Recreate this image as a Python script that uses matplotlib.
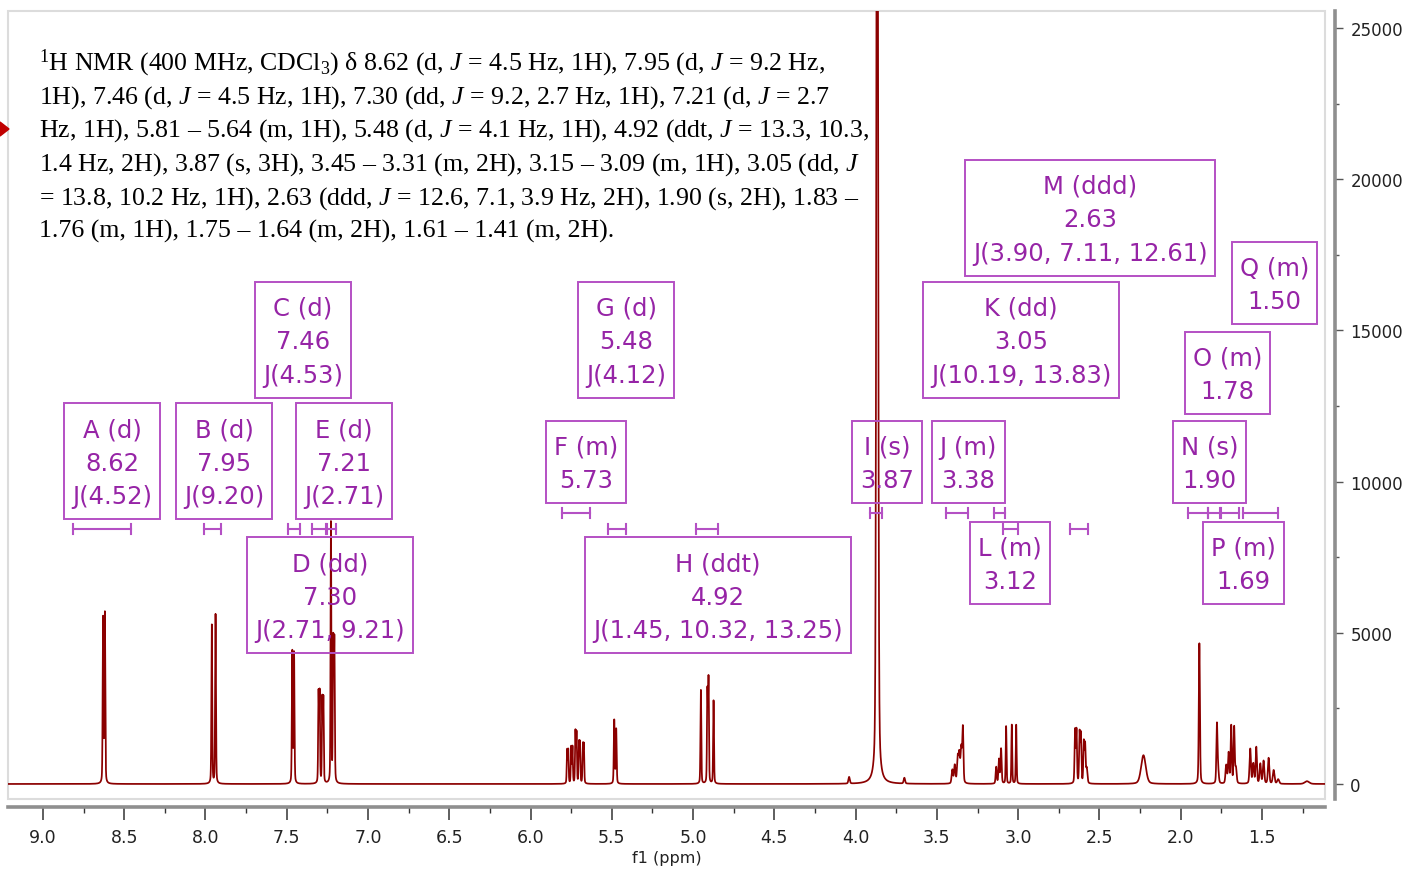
import numpy as np
import matplotlib
matplotlib.use("Agg")
import matplotlib.pyplot as plt
from matplotlib.patches import Rectangle, Polygon
from matplotlib.ticker import MultipleLocator

# ---------------- data ----------------
# peak positions (ppm), heights (intensity) and half widths (ppm)
peak_ppm = [
    8.630, 8.619,                      # A
    7.961, 7.938,                      # B
    7.466, 7.455,                      # C
    7.3044, 7.2976, 7.2814, 7.2746,    # D
    7.228, 7.214, 7.207,               # E
    5.775, 5.768, 5.750, 5.742, 5.724, 5.717, 5.702, 5.696, 5.678, 5.672,  # F
    5.485, 5.473,                      # G
    4.952, 4.912, 4.905, 4.874,        # H
    4.040, 3.700,                      # small
    3.867,                             # I
    3.405, 3.390, 3.372, 3.362, 3.350, 3.340,   # J
    3.135, 3.118, 3.105,               # L
    3.074, 3.039, 3.012,               # K
    2.650, 2.641, 2.622, 2.614, 2.596, 2.588, 2.578,  # M
    2.229,                             # broad
    1.885,                             # N
    1.777, 1.770,                      # O
    1.720, 1.705, 1.689, 1.671, 1.660, # P
    1.572, 1.553, 1.535, 1.510, 1.490, 1.459, 1.428, 1.400,  # Q
    1.223,
]
peak_height = [
    5450, 5600,
    5250, 5600,
    4350, 4300,
    2950, 2950, 2750, 2750,
    8600, 4600, 4600,
    1100, 1100, 1200, 1200, 1700, 1650, 1300, 1300, 1250, 1250,
    2100, 1800,
    3100, 3000, 3400, 2750,
    220, 190,
    40000,
    450, 600, 850, 950, 1150, 1800,
    550, 800, 1150,
    1900, 1950, 1950,
    1750, 1750, 1650, 1600, 1350, 1250, 500,
    950,
    4650,
    1900, 450,
    600, 1000, 1900, 1850, 500,
    1150, 650, 1200, 650, 750, 850, 450, 150,
    90,
]
peak_width = [
    0.0030, 0.0030,
    0.0030, 0.0030,
    0.0030, 0.0030,
    0.0028, 0.0028, 0.0028, 0.0028,
    0.0028, 0.0030, 0.0030,
    0.0028, 0.0028, 0.0028, 0.0028, 0.0028, 0.0028, 0.0028, 0.0028, 0.0028, 0.0028,
    0.0032, 0.0032,
    0.0030, 0.0030, 0.0030, 0.0030,
    0.0050, 0.0050,
    0.0060,
    0.0050, 0.0050, 0.0050, 0.0050, 0.0050, 0.0040,
    0.0040, 0.0040, 0.0040,
    0.0030, 0.0030, 0.0030,
    0.0035, 0.0035, 0.0035, 0.0035, 0.0035, 0.0035, 0.0050,
    0.0170,
    0.0040,
    0.0040, 0.0050,
    0.0050, 0.0045, 0.0040, 0.0040, 0.0050,
    0.0050, 0.0050, 0.0045, 0.0050, 0.0050, 0.0050, 0.0060, 0.0070,
    0.0160,
]
lorentz_fraction = 0.3

# multiplet labels
mult_labels = [
    "A (d)\n8.62\nJ(4.52)", "B (d)\n7.95\nJ(9.20)", "C (d)\n7.46\nJ(4.53)",
    "D (dd)\n7.30\nJ(2.71, 9.21)", "E (d)\n7.21\nJ(2.71)", "F (m)\n5.73",
    "G (d)\n5.48\nJ(4.12)", "H (ddt)\n4.92\nJ(1.45, 10.32, 13.25)",
    "I (s)\n3.87", "J (m)\n3.38", "L (m)\n3.12", "K (dd)\n3.05\nJ(10.19, 13.83)",
    "M (ddd)\n2.63\nJ(3.90, 7.11, 12.61)", "N (s)\n1.90", "O (m)\n1.78",
    "P (m)\n1.69", "Q (m)\n1.50",
]
# multiplet ranges (ppm)
range_start = [8.815, 8.009, 7.492, 7.344, 7.258, 5.806, 5.523, 4.981, 3.910,
               3.443, 3.147, 3.092, 2.680, 1.954, 1.830, 1.750, 1.615]
range_end = [8.458, 7.904, 7.418, 7.252, 7.197, 5.634, 5.412, 4.846, 3.837,
             3.308, 3.080, 3.000, 2.569, 1.830, 1.760, 1.640, 1.400]

x_ticks = [9.0, 8.5, 8.0, 7.5, 7.0, 6.5, 6.0, 5.5, 5.0, 4.5, 4.0, 3.5, 3.0, 2.5, 2.0, 1.5]
y_ticks = [0, 5000, 10000, 15000, 20000, 25000]

report_lines = [
    r"$^{1}$H NMR (400 MHz, CDCl$_{3}$) δ 8.62 (d, $J$ = 4.5 Hz, 1H), 7.95 (d, $J$ = 9.2 Hz,",
    r"1H), 7.46 (d, $J$ = 4.5 Hz, 1H), 7.30 (dd, $J$ = 9.2, 2.7 Hz, 1H), 7.21 (d, $J$ = 2.7",
    r"Hz, 1H), 5.81 – 5.64 (m, 1H), 5.48 (d, $J$ = 4.1 Hz, 1H), 4.92 (ddt, $J$ = 13.3, 10.3,",
    r"1.4 Hz, 2H), 3.87 (s, 3H), 3.45 – 3.31 (m, 2H), 3.15 – 3.09 (m, 1H), 3.05 (dd, $J$",
    r"= 13.8, 10.2 Hz, 1H), 2.63 (ddd, $J$ = 12.6, 7.1, 3.9 Hz, 2H), 1.90 (s, 2H), 1.83 –",
    r"1.76 (m, 1H), 1.75 – 1.64 (m, 2H), 1.61 – 1.41 (m, 2H).",
]

# ---------------- layout ----------------
W, H = 1406, 870
box_pos = [  # (ppm, intensity) centre of each label text
    (8.575, 10628), (7.886, 10628), (7.400, 14634), (7.233, 6191), (7.147, 10628),
    (5.658, 10595), (5.412, 14634), (4.846, 6191), (3.806, 10595), (3.307, 10595),
    (3.049, 7250), (2.981, 14634), (2.557, 18673), (1.824, 10595), (1.713, 13541),
    (1.615, 7250), (1.424, 16521),
]
bracket_level = [8443, 8443, 8443, 8443, 8443, 8973, 8443, 8443, 8973,
                 8973, 8973, 8443, 8443, 8973, 8973, 8973, 8973]

plt.rcParams["mathtext.fontset"] = "custom"
plt.rcParams["mathtext.rm"] = "Liberation Serif"
plt.rcParams["mathtext.it"] = "Liberation Serif:italic"

SPEC = "#8b0000"
PURPLE_TXT = "#9624a6"
PURPLE_BOX = "#b450c4"

fig = plt.figure(figsize=(W / 100, H / 100), dpi=100)
ax = fig.add_axes([8 / W, 1 - 800 / H, 1317 / W, 788 / H])

xs = np.linspace(9.215, 1.11, 60000)
spec = np.zeros_like(xs)
eta = lorentz_fraction
for p, h, w in zip(peak_ppm, peak_height, peak_width):
    d = (xs - p) / w
    spec += h * ((1 - eta) * np.exp(-np.log(2) * d ** 2) + eta / (1 + d ** 2))
ax.plot(xs, spec, color=SPEC, lw=1.25, zorder=3)

ax.set_xlim(9.215, 1.112)
ax.set_ylim(-497, 25563)

# frame
for s in ["left", "top"]:
    ax.spines[s].set_visible(False)
ax.add_patch(Rectangle((0, 0), 1, 1, transform=ax.transAxes, fill=False,
                       ec="#dcdcdc", lw=1.5, clip_on=False, zorder=0))
ax.spines["bottom"].set_position(("outward", 5.8))
ax.spines["right"].set_position(("outward", 7.2))
for s in ["bottom", "right"]:
    ax.spines[s].set_color("#8f8f8f")
    ax.spines[s].set_linewidth(2.6)

ax.set_xticks(x_ticks)
ax.set_xticklabels([f"{v:.1f}" for v in x_ticks])
ax.xaxis.set_minor_locator(MultipleLocator(0.25))
ax.yaxis.tick_right()
ax.set_yticks(y_ticks)
ax.set_yticklabels([str(v) for v in y_ticks])
ax.yaxis.set_minor_locator(MultipleLocator(2500))
ax.tick_params(axis="x", which="major", length=9, width=1.1, color="#333333",
               labelsize=12.5, labelcolor="#222222", pad=6)
ax.tick_params(axis="x", which="minor", length=4, width=1.0, color="#333333")
ax.tick_params(axis="y", which="major", length=6, width=1.0, color="#555555",
               labelsize=12, labelcolor="#222222", pad=5)
ax.tick_params(axis="y", which="minor", length=3, width=1.0, color="#555555")
ax.set_xlabel("f1 (ppm)", fontsize=11.5, color="#222222", labelpad=3)

# integration ranges
cap = 165
for a, b, lv in zip(range_start, range_end, bracket_level):
    ax.plot([a, b], [lv, lv], color=PURPLE_BOX, lw=1.5, zorder=4)
    ax.plot([a, a], [lv - cap, lv + cap], color=PURPLE_BOX, lw=1.5, zorder=4)
    ax.plot([b, b], [lv - cap, lv + cap], color=PURPLE_BOX, lw=1.5, zorder=4)

# label texts
texts = []
for lab, (px, py) in zip(mult_labels, box_pos):
    t = ax.text(px, py, lab, ha="center", va="center", multialignment="center",
                fontsize=17.5, linespacing=1.5, color=PURPLE_TXT,
                family="DejaVu Sans", zorder=5)
    texts.append(t)

# report text
baselines = [70, 104, 137, 171, 205, 238]
for line, b in zip(report_lines, baselines):
    fig.text(39 / W, 1 - b / H, line, ha="left", va="baseline", fontsize=18.6,
             family="Liberation Serif", color="#000000")

# small red arrow at left edge
fig.add_artist(Polygon([[0, 1 - 123 / H], [9 / W, 1 - 130 / H], [0, 1 - 137 / H]],
                       closed=True, transform=fig.transFigure, color="#c00000"))

# boxes around label texts
fig.canvas.draw()
r = fig.canvas.get_renderer()
PADX, PAD_TOP, PAD_BOT = 8, 14, 11
for t in texts:
    bb = t.get_window_extent(r)
    fig.add_artist(Rectangle(((bb.x0 - PADX) / W, (bb.y0 - PAD_BOT) / H),
                             (bb.width + 2 * PADX) / W,
                             (bb.height + PAD_TOP + PAD_BOT) / H,
                             transform=fig.transFigure, fill=False,
                             ec=PURPLE_BOX, lw=1.4, zorder=5))

fig.savefig("out.png", dpi=100)
